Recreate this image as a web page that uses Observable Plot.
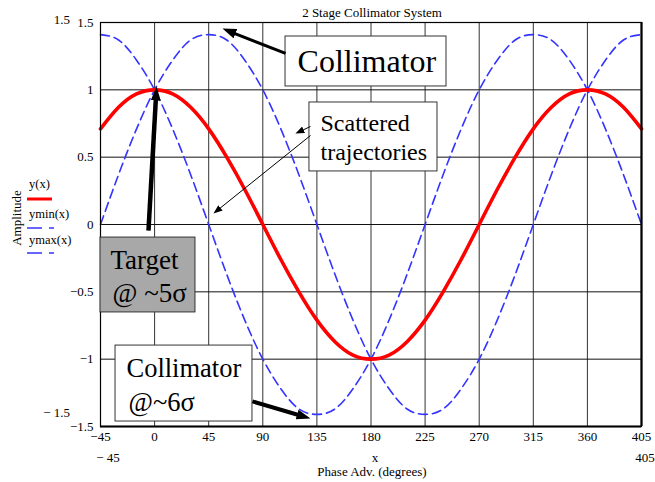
<!DOCTYPE html>
<html><head><meta charset="utf-8">
<script src="https://cdn.jsdelivr.net/npm/d3@7"></script>
<script src="https://cdn.jsdelivr.net/npm/@observablehq/plot@0.6"></script>
<style>body{margin:0;background:#fff} svg{display:block} svg text{font-family:"Liberation Serif","Times New Roman",serif !important}</style>
</head><body><div id="chart"></div>
<script>
// ---- data ----
const phase   = [-45,-30,-15,0,15,30,45,60,75,90,105,120,135,150,165,180,195,210,225,240,255,270,285,300,315,330,345,360,375,390,405];
const yCentral= [0.71,0.87,0.97,1,0.97,0.87,0.71,0.5,0.26,0,-0.26,-0.5,-0.71,-0.87,-0.97,-1,-0.97,-0.87,-0.71,-0.5,-0.26,0,0.26,0.5,0.71,0.87,0.97,1,0.97,0.87,0.71];
const yMinVals= [1.41,1.37,1.22,1,0.71,0.37,0,-0.37,-0.71,-1,-1.22,-1.37,-1.41,-1.37,-1.22,-1,-0.71,-0.37,0,0.37,0.71,1,1.22,1.37,1.41,1.37,1.22,1,0.71,0.37,0];
const yMaxVals= [0,0.37,0.71,1,1.22,1.37,1.41,1.37,1.22,1,0.71,0.37,0,-0.37,-0.71,-1,-1.22,-1.37,-1.41,-1.37,-1.22,-1,-0.71,-0.37,0,0.37,0.71,1,1.22,1.37,1.41];
const xTicks  = [-45,0,45,90,135,180,225,270,315,360,405];
const yTicks  = [-1.5,-1,-0.5,0,0.5,1,1.5];

// annotation boxes, labels and arrows (data coordinates)
const boxX1 = [108.9, 128.8, -45, -32.5];
const boxX2 = [242.8, 235.3, 34.0, 81.4];
const boxY1 = [1.025, 0.394, -0.653, -1.463];
const boxY2 = [1.396, 0.906, -0.097, -0.899];
const boxFill = ["#ffffff", "#ffffff", "#a8a8a8", "#ffffff"];

const labelText = ["Collimator", "Scattered", "trajectories", "Target", "@ ~5σ", "Collimator", "@~6σ"];
const labelX    = [118.9, 138.0, 138.0, -36.7, -35.0, -23.4, -21.7];
const labelY    = [1.210, 0.750, 0.535, -0.267, -0.512, -1.069, -1.322];
const labelSize = [32, 24, 24, 27, 27, 26.5, 26.5];

const thickX1 = [108.9, -5.1, 81.4], thickY1 = [1.270, -0.045, -1.314];
const thickX2 = [62.6, 1.25, 123.3], thickY2 = [1.433, 0.965, -1.424];
const thickW  = [3, 4.5, 4];
const thinX1 = [129.7, 129.7], thinY1 = [0.728, 0.661];
const thinX2 = [120.9, 52.2],  thinY2 = [0.691, 0.105];

const rows = phase.map((p, i) => ({phase: p, y: yCentral[i], ymin: yMinVals[i], ymax: yMaxVals[i]}));
const boxes = boxX1.map((d, i) => ({x1: d, x2: boxX2[i], y1: boxY1[i], y2: boxY2[i], fill: boxFill[i]}));
const labels = labelText.map((t, i) => ({text: t, x: labelX[i], y: labelY[i], size: labelSize[i]}));
const thick = thickX1.map((d, i) => ({x1: d, y1: thickY1[i], x2: thickX2[i], y2: thickY2[i], w: thickW[i]}));
const thin = thinX1.map((d, i) => ({x1: d, y1: thinY1[i], x2: thinX2[i], y2: thinY2[i]}));

const serif = "Liberation Serif";
const blue = "#3434ff";
const fmt = d => (d < 0 ? "−" : "") + String(Math.abs(d));

const plot = Plot.plot({
  width: 655, height: 482,
  marginLeft: 100, marginRight: 14, marginTop: 22, marginBottom: 56,
  style: "font-family: 'Liberation Serif', serif; font-size: 13px; background: #fff; overflow: visible; color: #000;",
  x: {domain: [-45, 405]},
  y: {domain: [-1.5, 1.5]},
  marks: [
    Plot.ruleX(xTicks, {stroke: "#333", strokeWidth: 1}),
    Plot.ruleY(yTicks, {stroke: "#111", strokeWidth: 1}),
    Plot.line(rows, {x: "phase", y: "ymax", stroke: blue, strokeWidth: 1.6, strokeDasharray: "9,5", curve: "natural"}),
    Plot.line(rows, {x: "phase", y: "ymin", stroke: blue, strokeWidth: 1.6, strokeDasharray: "9,5", curve: "natural"}),
    Plot.line(rows, {x: "phase", y: "y", stroke: "#ff0000", strokeWidth: 3.6, curve: "natural"}),
    Plot.frame({stroke: "#000", strokeWidth: 1.2}),
    Plot.ruleX([405], {stroke: "#000", strokeWidth: 2.2}),
    Plot.ruleY([-1.5], {stroke: "#000", strokeWidth: 2.2}),
    Plot.rect(boxes, {x1: "x1", x2: "x2", y1: "y1", y2: "y2", fill: "fill", stroke: "#333", strokeWidth: 1}),
    Plot.text(labels, {x: "x", y: "y", text: "text", fontSize: "size", textAnchor: "start", fill: "#000", fontFamily: serif}),
    Plot.link(thick, {x1: "x1", y1: "y1", x2: "x2", y2: "y2", stroke: "#000", strokeWidth: "w"}),
    Plot.link(thin, {x1: "x1", y1: "y1", x2: "x2", y2: "y2", stroke: "#000", strokeWidth: 1}),
    Plot.axisX(xTicks, {tickSize: 0, tickPadding: 5, fontSize: 13, label: null, tickFormat: fmt, fontFamily: serif}),
    Plot.axisY(yTicks, {tickSize: 0, tickPadding: 7, fontSize: 13, label: null, tickFormat: fmt, fontFamily: serif})
  ]
});

// arrowhead markers (filled triangles)
const svg = d3.select(plot);
svg.attr("font-family", serif);
const defs = svg.insert("defs", ":first-child");
defs.append("marker").attr("id", "headBig").attr("viewBox", "0 0 14 10").attr("refX", 6).attr("refY", 5)
  .attr("markerWidth", 14).attr("markerHeight", 10).attr("markerUnits", "userSpaceOnUse").attr("orient", "auto")
  .append("path").attr("d", "M0,0L14,5L0,10Z").attr("fill", "#000");
defs.append("marker").attr("id", "headSmall").attr("viewBox", "0 0 9 7").attr("refX", 4).attr("refY", 3.5)
  .attr("markerWidth", 9).attr("markerHeight", 7).attr("markerUnits", "userSpaceOnUse").attr("orient", "auto")
  .append("path").attr("d", "M0,0L9,3.5L0,7Z").attr("fill", "#000");
const linkGroups = svg.selectAll('g[aria-label="link"]').nodes();
d3.select(linkGroups[0]).selectAll("path").attr("marker-end", "url(#headBig)");
d3.select(linkGroups[1]).selectAll("path").attr("marker-end", "url(#headSmall)");

// outside-frame texts and legend
const t = (x, y, s, opts = {}) => svg.append("text").attr("x", x).attr("y", y)
  .attr("text-anchor", opts.anchor || "middle").attr("dominant-baseline", "central")
  .attr("font-family", serif).attr("font-size", opts.size || 13).attr("fill", "#000")
  .attr("transform", opts.rotate ? `rotate(-90 ${x} ${y})` : null).text(s);
t(372, 12, "2 Stage Collimator System");
t(70, 19, "1.5", {anchor: "end"});
t(70, 412, "− 1.5", {anchor: "end"});
t(108, 457, "− 45");
t(645, 457, "405");
t(375, 457, "x");
t(372, 471, "Phase Adv. (degrees)");
t(16, 218, "Amplitude", {rotate: true});
t(29, 184, "y(x)", {anchor: "start", size: 12.5});
t(29, 214, "ymin(x)", {anchor: "start", size: 12.5});
t(29, 240, "ymax(x)", {anchor: "start", size: 12.5});
svg.append("line").attr("x1", 27).attr("x2", 52).attr("y1", 199).attr("y2", 199).attr("stroke", "#ff0000").attr("stroke-width", 3);
for (const yy of [228, 253]) {
  svg.append("line").attr("x1", 27).attr("x2", 54).attr("y1", yy).attr("y2", yy)
    .attr("stroke", blue).attr("stroke-width", 1.5).attr("stroke-dasharray", "15,7,5,100");
}

document.getElementById("chart").append(plot);
</script>
</body></html>
